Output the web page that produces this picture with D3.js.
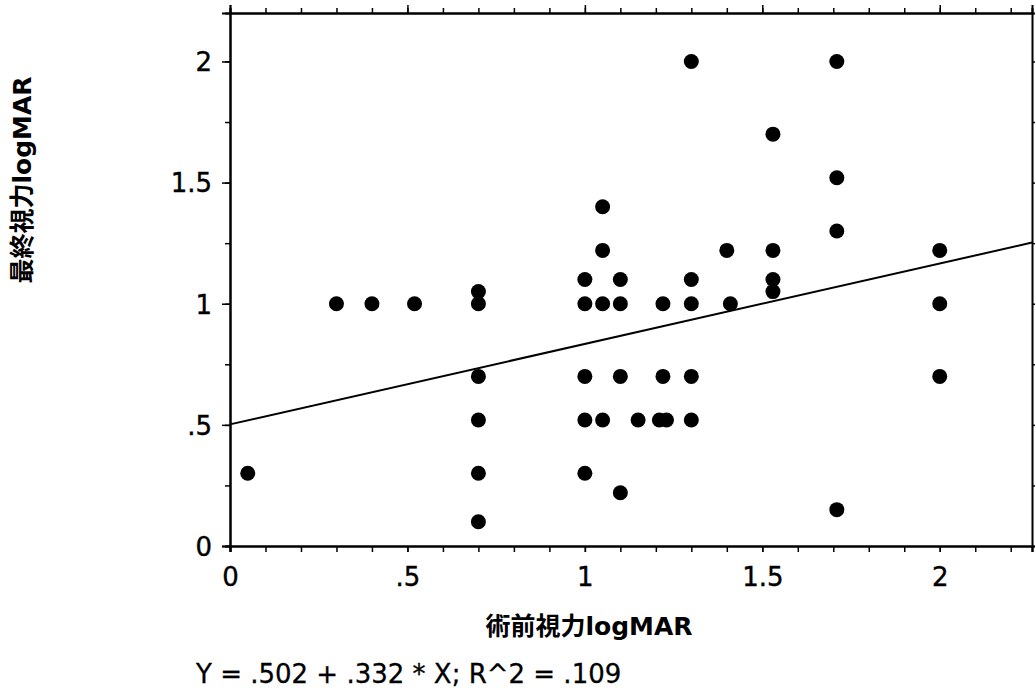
<!DOCTYPE html>
<html>
<head>
<meta charset="utf-8">
<script src="https://cdn.jsdelivr.net/npm/d3@7"></script>
<style>
  body { margin: 0; background: #fff; }
  text { font-family: "DejaVu Sans", "Noto Sans CJK JP", sans-serif; fill: #000; }
</style>
</head>
<body>
<div id="chart"></div>
<script>
// pre-op logMAR (x) vs final logMAR (y)
var preVA = [0.05,
  0.3, 0.4, 0.52,
  0.7, 0.7, 0.7, 0.7, 0.7, 0.7,
  1.0, 1.0, 1.0, 1.0, 1.0,
  1.05, 1.05, 1.05, 1.05,
  1.1, 1.1, 1.1, 1.1,
  1.15,
  1.22, 1.22, 1.21, 1.23,
  1.3, 1.3, 1.3, 1.3, 1.3,
  1.4, 1.41,
  1.53, 1.53, 1.53, 1.53,
  1.71, 1.71, 1.71, 1.71,
  2.0, 2.0, 2.0];
var finalVA = [0.3,
  1.0, 1.0, 1.0,
  1.05, 1.0, 0.7, 0.52, 0.3, 0.1,
  1.1, 1.0, 0.7, 0.52, 0.3,
  1.4, 1.22, 1.0, 0.52,
  1.1, 1.0, 0.7, 0.22,
  0.52,
  1.0, 0.7, 0.52, 0.52,
  2.0, 1.1, 1.0, 0.7, 0.52,
  1.22, 1.0,
  1.7, 1.22, 1.1, 1.05,
  2.0, 1.52, 1.3, 0.15,
  1.22, 1.0, 0.7];
var xLabels = [0, 0.5, 1, 1.5, 2];
var yLabels = [0, 0.5, 1, 1.5, 2];
var fit = { a: 0.502, b: 0.332, r2: 0.109 };

var W = 1035, H = 690;
var margin = { top: 13, right: 3, bottom: 144, left: 230 };
var width = W - margin.left - margin.right;
var height = H - margin.top - margin.bottom;

var svg = d3.select("#chart").append("svg")
    .attr("width", W)
    .attr("height", H);
var g = svg.append("g")
    .attr("transform", "translate(" + margin.left + "," + margin.top + ")");

var x = d3.scaleLinear().domain([0, 2.26]).range([0, width]);
var y = d3.scaleLinear().domain([0, 2.2]).range([height, 0]);

function fmt(v) {
    return v === 0 ? "0" : String(v).replace(/^0/, "");
}

var xMinor = d3.range(0, 2.26, 0.1);
var yMinor = d3.range(0, 2.21, 0.25);

// bottom axis with labels
g.append("g")
    .attr("transform", "translate(0," + height + ")")
    .call(d3.axisBottom(x).tickValues(xMinor).tickSize(6).tickFormat(""));
g.append("g")
    .attr("transform", "translate(0," + height + ")")
    .call(d3.axisBottom(x).tickValues(xLabels).tickSize(6).tickPadding(16).tickFormat(fmt))
    .call(function(s) { s.selectAll("text").attr("font-size", 26).attr("stroke", "#000").attr("stroke-width", 0.4); });

// top axis, ticks only
g.append("g")
    .call(d3.axisTop(x).tickValues(xMinor).tickSize(5).tickFormat(""));
g.append("g")
    .call(d3.axisTop(x).tickValues(xLabels).tickSize(8).tickFormat(""));

// left axis
g.append("g")
    .call(d3.axisLeft(y).tickValues(yMinor).tickSize(5).tickFormat(""));
g.append("g")
    .call(d3.axisLeft(y).tickValues(yLabels).tickSize(8).tickPadding(10).tickFormat(fmt))
    .call(function(s) {
        s.selectAll("text").attr("font-size", 26).attr("dy", "0.36em")
            .attr("stroke", "#000").attr("stroke-width", 0.4);
    });

// right axis
g.append("g")
    .attr("transform", "translate(" + width + ",0)")
    .call(d3.axisRight(y).tickValues(yMinor).tickSize(4).tickFormat(""));

g.selectAll(".domain").attr("stroke", "#000").attr("stroke-width", 2);
g.selectAll(".tick line").attr("stroke", "#000").attr("stroke-width", 1.5);

// regression line
var xs = x.domain();
g.append("line")
    .attr("x1", x(xs[0])).attr("y1", y(fit.a + fit.b * xs[0]))
    .attr("x2", x(xs[1])).attr("y2", y(fit.a + fit.b * xs[1]))
    .attr("stroke", "#000")
    .attr("stroke-width", 2);

// points
g.selectAll(".pt")
    .data(preVA.map(function(d, i) { return [d, finalVA[i]]; }))
    .enter().append("circle")
    .attr("class", "pt")
    .attr("cx", function(d) { return x(d[0]); })
    .attr("cy", function(d) { return y(d[1]); })
    .attr("r", 7.5)
    .attr("fill", "#000");

// titles
svg.append("text")
    .attr("x", 589)
    .attr("y", 635)
    .attr("text-anchor", "middle")
    .attr("font-size", 25)
    .attr("font-weight", "bold")
    .text("術前視力logMAR");

svg.append("text")
    .attr("transform", "translate(31,180) rotate(-90)")
    .attr("text-anchor", "middle")
    .attr("font-size", 25)
    .attr("font-weight", "bold")
    .text("最終視力logMAR");

svg.append("text")
    .attr("x", 196)
    .attr("y", 683)
    .attr("font-size", 26)
    .attr("stroke", "#000")
    .attr("stroke-width", 0.3)
    .text("Y = " + fmt(fit.a) + " + " + fmt(fit.b) + " * X; R^2 = " + fmt(fit.r2));
</script>
</body>
</html>
